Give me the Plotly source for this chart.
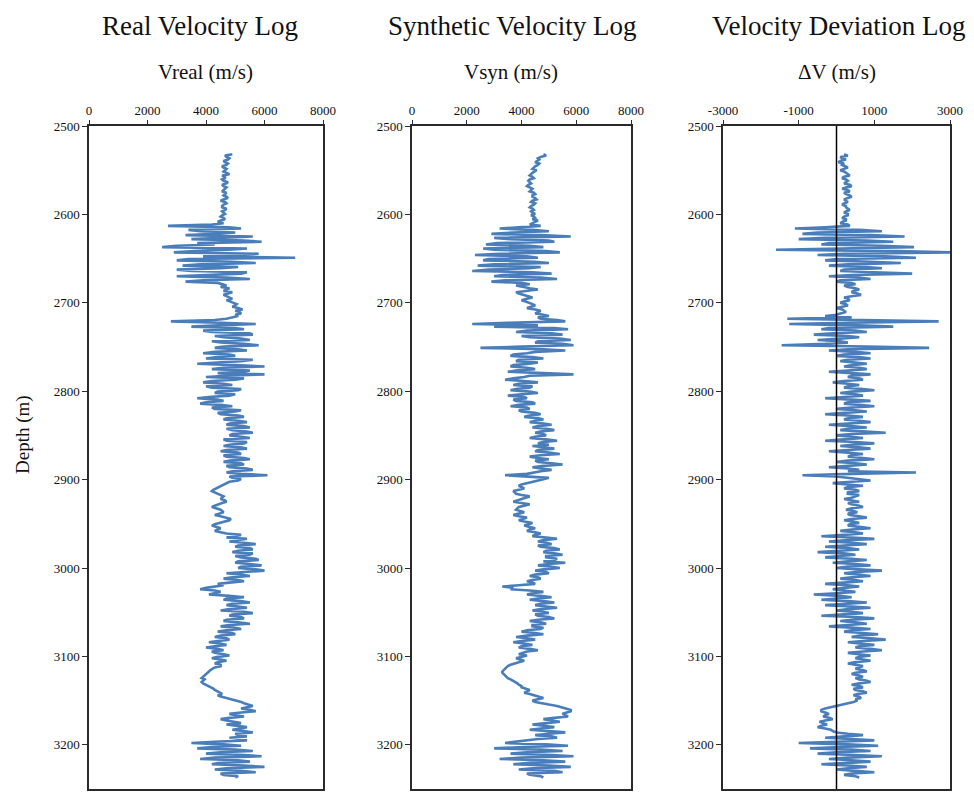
import plotly.graph_objects as go

# ---------------- data ----------------
DEPTH = [
    2532, 2533.5, 2535, 2536.5, 2538, 2539.5, 2541, 2542.5, 2544, 2545.5, 2547, 2548.5, 2550, 2551.5, 2553, 2554.5, 2556, 2557.5, 2559, 2560.5,
    2562, 2563.5, 2565, 2566.5, 2568, 2569.5, 2571, 2572.5, 2574, 2575.5, 2577, 2578.5, 2580, 2581.5, 2583, 2584.5, 2586, 2587.5, 2589, 2590.5,
    2592, 2593.5, 2595, 2596.5, 2598, 2599.5, 2601, 2602.5, 2604, 2605.5, 2607, 2608.5, 2610, 2611.5, 2613, 2614.5, 2616, 2617.5, 2619, 2620.5,
    2622, 2623.5, 2625, 2626.5, 2628, 2629.5, 2631, 2632.5, 2634, 2635.5, 2637, 2638.5, 2640, 2641.5, 2643, 2644.5, 2646, 2647.5, 2649, 2650.5,
    2652, 2653.5, 2655, 2656.5, 2658, 2659.5, 2661, 2662.5, 2664, 2665.5, 2667, 2668.5, 2670, 2671.5, 2673, 2674.5, 2676, 2677.5, 2679, 2680.5,
    2682, 2683.5, 2685, 2686.5, 2688, 2689.5, 2691, 2692.5, 2694, 2695.5, 2697, 2698.5, 2700, 2701.5, 2703, 2704.5, 2706, 2707.5, 2709, 2710.5,
    2712, 2713.5, 2715, 2716.5, 2718, 2719.5, 2721, 2722.5, 2724, 2725.5, 2727, 2728.5, 2730, 2731.5, 2733, 2734.5, 2736, 2737.5, 2739, 2740.5,
    2742, 2743.5, 2745, 2746.5, 2748, 2749.5, 2751, 2752.5, 2754, 2755.5, 2757, 2758.5, 2760, 2761.5, 2763, 2764.5, 2766, 2767.5, 2769, 2770.5,
    2772, 2773.5, 2775, 2776.5, 2778, 2779.5, 2781, 2782.5, 2784, 2785.5, 2787, 2788.5, 2790, 2791.5, 2793, 2794.5, 2796, 2797.5, 2799, 2800.5,
    2802, 2803.5, 2805, 2806.5, 2808, 2809.5, 2811, 2812.5, 2814, 2815.5, 2817, 2818.5, 2820, 2821.5, 2823, 2824.5, 2826, 2827.5, 2829, 2830.5,
    2832, 2833.5, 2835, 2836.5, 2838, 2839.5, 2841, 2842.5, 2844, 2845.5, 2847, 2848.5, 2850, 2851.5, 2853, 2854.5, 2856, 2857.5, 2859, 2860.5,
    2862, 2863.5, 2865, 2866.5, 2868, 2869.5, 2871, 2872.5, 2874, 2875.5, 2877, 2878.5, 2880, 2881.5, 2883, 2884.5, 2886, 2887.5, 2889, 2890.5,
    2892, 2893.5, 2895, 2896.5, 2898, 2899.5, 2901, 2902.5, 2904, 2905.5, 2907, 2908.5, 2910, 2911.5, 2913, 2914.5, 2916, 2917.5, 2919, 2920.5,
    2922, 2923.5, 2925, 2926.5, 2928, 2929.5, 2931, 2932.5, 2934, 2935.5, 2937, 2938.5, 2940, 2941.5, 2943, 2944.5, 2946, 2947.5, 2949, 2950.5,
    2952, 2953.5, 2955, 2956.5, 2958, 2959.5, 2961, 2962.5, 2964, 2965.5, 2967, 2968.5, 2970, 2971.5, 2973, 2974.5, 2976, 2977.5, 2979, 2980.5,
    2982, 2983.5, 2985, 2986.5, 2988, 2989.5, 2991, 2992.5, 2994, 2995.5, 2997, 2998.5, 3000, 3001.5, 3003, 3004.5, 3006, 3007.5, 3009, 3010.5,
    3012, 3013.5, 3015, 3016.5, 3018, 3019.5, 3021, 3022.5, 3024, 3025.5, 3027, 3028.5, 3030, 3031.5, 3033, 3034.5, 3036, 3037.5, 3039, 3040.5,
    3042, 3043.5, 3045, 3046.5, 3048, 3049.5, 3051, 3052.5, 3054, 3055.5, 3057, 3058.5, 3060, 3061.5, 3063, 3064.5, 3066, 3067.5, 3069, 3070.5,
    3072, 3073.5, 3075, 3076.5, 3078, 3079.5, 3081, 3082.5, 3084, 3085.5, 3087, 3088.5, 3090, 3091.5, 3093, 3094.5, 3096, 3097.5, 3099, 3100.5,
    3102, 3103.5, 3105, 3106.5, 3108, 3109.5, 3111, 3112.5, 3114, 3115.5, 3117, 3118.5, 3120, 3121.5, 3123, 3124.5, 3126, 3127.5, 3129, 3130.5,
    3132, 3133.5, 3135, 3136.5, 3138, 3139.5, 3141, 3142.5, 3144, 3145.5, 3147, 3148.5, 3150, 3151.5, 3153, 3154.5, 3156, 3157.5, 3159, 3160.5,
    3162, 3163.5, 3165, 3166.5, 3168, 3169.5, 3171, 3172.5, 3174, 3175.5, 3177, 3178.5, 3180, 3181.5, 3183, 3184.5, 3186, 3187.5, 3189, 3190.5,
    3192, 3193.5, 3195, 3196.5, 3198, 3199.5, 3201, 3202.5, 3204, 3205.5, 3207, 3208.5, 3210, 3211.5, 3213, 3214.5, 3216, 3217.5, 3219, 3220.5,
    3222, 3223.5, 3225, 3226.5, 3228, 3229.5, 3231, 3232.5, 3234, 3235.5, 3237,
]

V_REAL = [
    4900, 4650, 4700, 4800, 4750, 4600, 4650, 4750, 4700, 4550, 4600, 4700, 4650, 4600, 4700, 4800, 4550, 4650, 4650, 4550,
    4600, 4750, 4700, 4550, 4600, 4700, 4650, 4600, 4550, 4700, 4650, 4600, 4700, 4750, 4600, 4500, 4650, 4700, 4600, 4550,
    4550, 4700, 4650, 4550, 4600, 4650, 4550, 4500, 4600, 4650, 4500, 4400, 4600, 4200, 2700, 4800, 5200, 3400, 3800, 5000,
    4400, 3300, 5600, 4200, 3500, 5300, 5900, 3700, 4300, 3000, 2500, 5400, 4800, 3600, 2900, 5800, 4700, 3900, 7050, 3400,
    3000, 4900, 5700, 3800, 3200, 5100, 4500, 3000, 3500, 5400, 5200, 3800, 3000, 4700, 5500, 3900, 3300, 4400, 4600, 4700,
    4500, 4800, 4700, 4600, 4900, 4750, 4600, 4700, 4800, 4900, 4700, 4800, 4900, 5050, 5000, 4900, 5100, 5250, 5000, 5150,
    5200, 5000, 5100, 4900, 4700, 4300, 2800, 4500, 5700, 4400, 3500, 5000, 5300, 3900, 4200, 5500, 5600, 4300, 4600, 5200,
    5500, 4200, 4500, 5300, 5800, 4600, 4300, 5100, 5400, 4300, 3900, 4800, 5000, 4300, 4000, 5600, 5200, 4400, 3700, 5000,
    6000, 4600, 4200, 5500, 5300, 4400, 6000, 4700, 4000, 5300, 5000, 4200, 3900, 4600, 4900, 4000, 4200, 5200, 5100, 4400,
    4300, 5000, 4800, 4100, 3700, 4400, 4600, 4000, 3800, 4500, 4900, 4200, 4300, 5200, 5000, 4400, 4500, 5100, 5300, 4700,
    4600, 5100, 5400, 4800, 4700, 5300, 5500, 4700, 4900, 5400, 5600, 4900, 4800, 5200, 5500, 4600, 4700, 5400, 5300, 4800,
    4600, 5200, 5400, 4700, 4500, 5100, 5200, 4600, 4700, 5300, 5500, 4800, 4600, 5200, 5300, 4700, 4800, 5400, 5600, 4900,
    4700, 5200, 6100, 4800, 4900, 5200, 5100, 4800, 4700, 4600, 4500, 4400, 4300, 4250, 4200, 4300, 4400, 4500, 4600, 4550,
    4500, 4650, 4700, 4550, 4400, 4300, 4200, 4350, 4500, 4550, 4600, 4450, 4300, 4500, 4700, 4850, 4800, 4600, 4400, 4300,
    4200, 4350, 4500, 4400, 4300, 4500, 4700, 5200, 5000, 4700, 5400, 5000, 4800, 5300, 5700, 5100, 5000, 5500, 5600, 5100,
    4900, 5600, 5500, 5000, 5200, 5700, 5800, 5100, 5000, 5500, 5900, 5200, 5100, 5700, 6000, 5300, 4700, 5200, 5500, 4900,
    4600, 5100, 5300, 4800, 4400, 4600, 4200, 4000, 3800, 4300, 4500, 4300, 4100, 4800, 5300, 4700, 4600, 5200, 5500, 4900,
    4700, 5100, 5400, 4800, 4500, 5300, 5600, 4900, 4800, 5200, 5300, 4700, 4600, 5100, 5500, 4800, 4500, 5000, 5200, 4700,
    4400, 4900, 5000, 4500, 4300, 4700, 4800, 4400, 4100, 4500, 4700, 4300, 4000, 4400, 4600, 4200, 4300, 4600, 4800, 4400,
    4200, 4500, 4700, 4400, 4300, 4500, 4500, 4300, 4200, 4150, 4100, 4050, 4000, 3950, 3900, 3850, 3950, 3900, 3850, 3900,
    4000, 4100, 4200, 4250, 4300, 4400, 4500, 4550, 4400, 4500, 4700, 4900, 5000, 5200, 5300, 5500, 5600, 5400, 5200, 5500,
    5700, 5200, 4800, 5000, 5300, 4800, 4500, 4700, 5000, 5200, 4700, 5100, 5400, 5200, 4900, 5300, 5600, 5000, 5100, 5400,
    4800, 5200, 5400, 4300, 3500, 4600, 5200, 4200, 3700, 5000, 5600, 4500, 4000, 5300, 5900, 4300, 3800, 5100, 5500, 4400,
    4200, 5300, 6000, 4700, 4300, 5200, 5700, 4500, 4600, 5100, 5000,
]

V_SYN = [
    4800, 4900, 4700, 4600, 4650, 4550, 4500, 4650, 4600, 4500, 4450, 4400, 4550, 4450, 4400, 4350, 4300, 4400, 4450, 4300,
    4250, 4300, 4350, 4250, 4200, 4300, 4400, 4350, 4300, 4450, 4500, 4400, 4400, 4500, 4550, 4400, 4350, 4500, 4450, 4350,
    4300, 4400, 4450, 4350, 4400, 4500, 4350, 4450, 4500, 4400, 4600, 4500, 4400, 4300, 4700, 3800, 3200, 4400, 5000, 3700,
    2900, 4700, 5800, 3000, 3600, 5000, 5200, 3100, 2700, 4300, 4800, 2600, 3000, 4900, 5400, 3200, 2300, 4200, 4600, 2800,
    2600, 4500, 5000, 3000, 2400, 4700, 4300, 2800, 2200, 4400, 5100, 3300, 3000, 4700, 5300, 3400, 2900, 4000, 4300, 3800,
    4000, 4300, 4600, 4100, 3800, 3900, 4100, 4300, 4400, 4200, 4000, 4150, 4300, 4400, 4500, 4350, 4200, 4500, 4700, 4600,
    4500, 4800, 5000, 4600, 4700, 5300, 5600, 3500, 2200, 4600, 3000, 5200, 5700, 4200, 3800, 5100, 5500, 4000, 4300, 5400,
    5800, 4600, 4500, 5500, 5900, 4000, 2500, 4800, 5600, 4500, 4200, 3700, 3600, 4400, 4800, 3900, 3800, 4600, 4300, 3700,
    3600, 4200, 4500, 3800, 3500, 4800, 5900, 4300, 4100, 3700, 3400, 4100, 4600, 3900, 3700, 4400, 4300, 3800, 3600, 4300,
    4600, 4000, 3500, 4100, 4200, 3700, 3800, 4400, 4500, 3900, 3600, 4200, 4300, 3900, 4000, 4500, 4700, 4300, 4100, 4600,
    4800, 4500, 4300, 4800, 5100, 4600, 4400, 4900, 5200, 4700, 4500, 4800, 4900, 4500, 4300, 4900, 5300, 4800, 4600, 5000,
    4400, 4800, 5200, 4600, 4500, 5000, 5400, 4700, 4300, 4600, 5000, 4500, 4600, 5100, 5500, 4800, 4400, 4700, 5100, 4700,
    4500, 4200, 3400, 4300, 5000, 4800, 4600, 4300, 4200, 4000, 3900, 4000, 4100, 3900, 3700, 3750, 3800, 4000, 4300, 4150,
    4000, 3800, 3700, 4000, 4300, 4100, 3900, 3850, 3800, 3950, 4100, 3900, 3700, 3900, 4200, 4050, 3900, 4100, 4400, 4250,
    4100, 4300, 4500, 4300, 4200, 4500, 4700, 4500, 4400, 4900, 5300, 4800, 4600, 4900, 5100, 4600, 4700, 5200, 5400, 4900,
    4800, 5200, 5500, 4900, 4900, 5300, 5200, 4800, 5600, 5000, 4600, 5100, 5400, 4800, 4500, 4900, 5000, 4500, 4300, 4600,
    4700, 4400, 4200, 4400, 4500, 3900, 3300, 3700, 3600, 4300, 4800, 4400, 4200, 4700, 5100, 4600, 4300, 4800, 5200, 4700,
    4500, 4900, 5300, 4700, 4400, 4800, 5000, 4500, 4600, 5000, 5200, 4600, 4300, 4700, 4900, 4400, 4400, 4800, 4700, 4200,
    4000, 4500, 4800, 4200, 3800, 4200, 4500, 4000, 3700, 4100, 4400, 4000, 3900, 4300, 4600, 4200, 4000, 3900, 4200, 4000,
    3800, 3950, 4100, 3900, 3700, 3600, 3500, 3450, 3400, 3350, 3300, 3300, 3350, 3400, 3450, 3500, 3600, 3700, 3800, 3850,
    3900, 4000, 4000, 4200, 4300, 4200, 4100, 4300, 4500, 4700, 4800, 4600, 4400, 4500, 4700, 5000, 5300, 5500, 5700, 5800,
    5800, 5600, 5500, 5600, 5700, 5200, 4800, 5100, 5400, 4900, 4400, 4800, 5200, 4700, 4300, 5000, 5600, 5000, 4500, 5100,
    5300, 4600, 4200, 3800, 3400, 4900, 5700, 4100, 3000, 4700, 5500, 4200, 3600, 5100, 5900, 4000, 3200, 4800, 5600, 4300,
    3700, 5000, 5800, 4400, 3900, 5200, 5500, 4200, 4300, 4700, 4800,
]

DELTA_V = [
    200, 300, 100, 150, 250, 100, 50, 200, 150, 250, 300, 200, 100, 200, 250, 300, 350, 200, 150, 250,
    300, 250, 200, 350, 400, 250, 150, 300, 350, 200, 250, 350, 400, 300, 200, 250, 300, 200, 150, 250,
    250, 300, 350, 250, 200, 300, 300, 200, 150, 250, 250, 150, 100, 300, 350, -300, -1100, 600, 1200, -500,
    -900, 900, 1800, -300, -1000, 800, 1500, -200, -400, 1200, 2050, 100, -1600, 1600, 3000, 200, -500, 1300, 2100, 0,
    -300, 900, 1700, 300, -200, 800, 1200, 200, 100, 1000, 2000, 400, -200, 600, 900, 100, 0, 400, 500, 200,
    300, 500, 600, 450, 400, 550, 650, 400, 200, 300, 350, 200, 100, 250, 300, 150, 0, 150, 200, 250,
    100, 0, -300, 400, -1300, 1000, 2700, 300, -1250, 600, 1500, -200, -400, 500, 800, -100, -600, 300, 600, 100,
    -500, 100, 300, -300, -1450, 800, 2450, 300, -200, 500, 900, 200, 0, 600, 900, 300, 100, 500, 800, 400,
    200, 600, 800, 300, -200, 400, 900, 400, 300, 600, 700, 200, -100, 300, 600, 300, 200, 700, 1000, 400,
    100, 500, 700, 200, -300, 400, 900, 300, 200, 600, 1000, 400, 0, 500, 800, 200, -300, 300, 700, 300,
    200, 600, 900, 300, -200, 400, 800, 300, 100, 700, 1300, 400, 0, 400, 700, 200, -300, 500, 1000, 400,
    100, 600, 900, 300, -200, 300, 700, 400, 300, 700, 1000, 300, 0, 500, 800, 300, -200, 300, 600, 300,
    2100, 400, -900, 0, 300, 600, 900, 400, -100, 300, 700, 300, 200, 500, 600, 300, 300, 600, 500, 400,
    200, 450, 600, 300, 400, 600, 700, 400, 250, 450, 550, 300, 350, 600, 800, 400, 200, 450, 600, 350,
    300, 600, 900, 400, 100, 500, 700, 200, -400, 400, 1000, 300, -200, 400, 800, 200, -300, 300, 600, 100,
    -500, 200, 500, 100, -300, 400, 800, 300, -100, 500, 900, 300, 0, 600, 1200, 500, 200, 600, 900, 400,
    100, 500, 700, 200, -300, 300, 600, 200, -100, 200, 500, 0, -600, 100, 400, 0, -400, 300, 800, 300,
    -300, 400, 900, 300, 0, 400, 700, 200, -400, 500, 1000, 400, 100, 500, 800, 300, -200, 400, 900, 400,
    200, 700, 1100, 600, 400, 900, 1300, 700, 300, 600, 1000, 600, 500, 900, 1200, 700, 300, 600, 900, 600,
    500, 700, 900, 500, 300, 500, 700, 600, 500, 700, 800, 500, 400, 600, 700, 500, 600, 800, 900, 600,
    400, 600, 700, 450, 500, 700, 800, 550, 450, 600, 650, 500, 550, 450, 300, 100, 0, -150, -300, -400,
    -400, -300, -200, -300, -350, -200, -100, -300, -450, -350, -250, -400, -500, -300, -150, -100, 0, 300, 700, 200,
    -300, 400, 1000, 0, -1000, 300, 1100, 100, -700, 400, 900, 0, -500, 500, 1200, 300, -200, 400, 900, 300,
    -400, 300, 800, 300, 0, 500, 1000, 400, 200, 500, 600,
]

assert len(DEPTH) == len(V_REAL) == len(V_SYN) == len(DELTA_V), (
    len(DEPTH), len(V_REAL), len(V_SYN), len(DELTA_V))

PANEL_TITLES = ["Real Velocity Log", "Synthetic Velocity Log", "Velocity Deviation Log"]
AXIS_TITLES = ["Vreal (m/s)", "Vsyn (m/s)", "\u0394V (m/s)"]
DEPTH_TICKS = [2500, 2600, 2700, 2800, 2900, 3000, 3100, 3200]
VEL_TICKS = [0, 2000, 4000, 6000, 8000]
DV_TICKS = [-3000, -1000, 1000, 3000]

# ---------------- styling ----------------
# The page body has an 8px margin, so target window pixels are shifted by OFF.
OFF = 8
W, H = 974 - OFF, 793 - OFF
TOP, BOT = 126 - OFF, 789 - OFF
SERIF = "Liberation Serif, Times New Roman, serif"
BLUE = "#4A7EBB"
INK = "#111111"

panels_px = [(89, 323), (412, 631), (723, 950)]
doms = [[(a - OFF) / W, (b - OFF) / W] for a, b in panels_px]

fig = go.Figure()
series = [V_REAL, V_SYN, DELTA_V]
for i, s in enumerate(series):
    sfx = "" if i == 0 else str(i + 1)
    fig.add_trace(go.Scatter(x=s, y=DEPTH, mode="lines",
                             line=dict(color=BLUE, width=2.6),
                             xaxis="x" + sfx, yaxis="y" + sfx,
                             showlegend=False, hoverinfo="skip"))

layout = dict(
    width=W, height=H,
    margin=dict(l=0, r=0, t=TOP, b=H - BOT, pad=0, autoexpand=False),
    paper_bgcolor="white", plot_bgcolor="white",
    font=dict(family=SERIF, color=INK),
    showlegend=False,
)

def xax(i):
    base = dict(domain=doms[i], side="top", anchor="y" + ("" if i == 0 else str(i + 1)),
                automargin=False,
                showgrid=False, zeroline=False, showline=True, mirror=True,
                linecolor="#2a2a2a", linewidth=1.5,
                ticks="outside", ticklen=4, tickwidth=1.2, tickcolor="#2a2a2a",
                tickfont=dict(family=SERIF, size=13, color=INK))
    if i < 2:
        base.update(range=[0, 8000], tickvals=VEL_TICKS,
                    ticktext=[str(v) for v in VEL_TICKS])
    else:
        base.update(range=[-3000, 3000], tickvals=DV_TICKS,
                    ticktext=[str(v) for v in DV_TICKS])
    return base

def yax(i):
    return dict(domain=[0, 1], anchor="x" + ("" if i == 0 else str(i + 1)),
                automargin=False,
                range=[3250, 2500], tickvals=DEPTH_TICKS,
                ticktext=[str(v) for v in DEPTH_TICKS],
                showgrid=False, zeroline=False, showline=True, mirror=True,
                linecolor="#2a2a2a", linewidth=1.5,
                ticks="outside", ticklen=5, tickwidth=1.2, tickcolor="#2a2a2a",
                tickfont=dict(family=SERIF, size=13, color=INK))

for i in range(3):
    sfx = "" if i == 0 else str(i + 1)
    layout["xaxis" + sfx] = xax(i)
    layout["yaxis" + sfx] = yax(i)

def py(p):
    return (BOT - (p - OFF)) / (BOT - TOP)

def px(p):
    return (p - OFF) / W

ann = []
title_cx = [200, 512, 838]
axis_cx = [205, 511, 837]
for i in range(3):
    ann.append(dict(text=PANEL_TITLES[i], x=px(title_cx[i]), y=py(26), xref="paper", yref="paper",
                    xanchor="center", yanchor="middle", showarrow=False,
                    font=dict(family=SERIF, size=27, color=INK)))
    ann.append(dict(text=AXIS_TITLES[i], x=px(axis_cx[i]), y=py(72), xref="paper", yref="paper",
                    xanchor="center", yanchor="middle", showarrow=False,
                    font=dict(family=SERIF, size=21, color=INK)))
ann.append(dict(text="Depth (m)", x=px(23), y=py(435), xref="paper", yref="paper",
                xanchor="center", yanchor="middle", showarrow=False, textangle=-90,
                font=dict(family=SERIF, size=19, color=INK)))
layout["annotations"] = ann

layout["shapes"] = [dict(type="line", xref="x3", yref="paper", x0=0, x1=0, y0=0, y1=1,
                         line=dict(color="black", width=1.5), layer="above")]

fig.update_layout(**layout)
fig.write_html("out.html")
